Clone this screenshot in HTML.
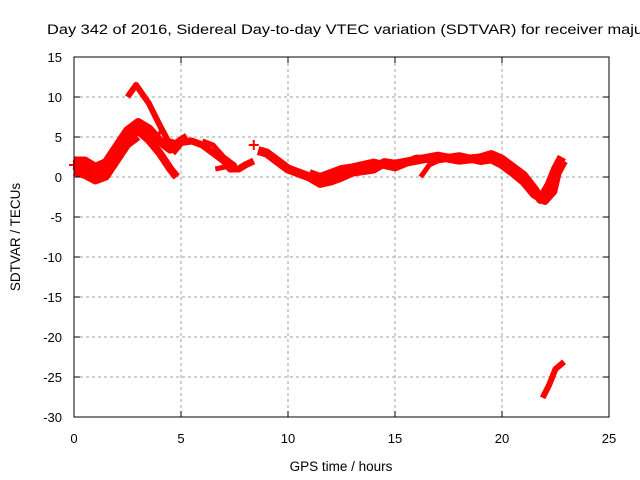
<!DOCTYPE html>
<html><head><meta charset="utf-8"><style>
body{margin:0;background:#fff;}
svg{display:block;font-family:"Liberation Sans",sans-serif;}
</style></head><body>
<svg width="640" height="480" xmlns="http://www.w3.org/2000/svg">
<g id="grid"></g>
<g id="data"></g>
<rect x="74" y="57" width="535" height="360" fill="none" stroke="#000" stroke-width="1"/>
<g id="ticks" font-size="13" fill="#000"></g>
<text x="47" y="34" font-size="13.5" textLength="596" lengthAdjust="spacingAndGlyphs">Day 342 of 2016, Sidereal Day-to-day VTEC variation (SDTVAR) for receiver maju</text>
<text x="341" y="471" font-size="13.5" text-anchor="middle">GPS time / hours</text>
<text transform="translate(20,237) rotate(-90)" font-size="13.5" text-anchor="middle">SDTVAR / TECUs</text>
</svg>
<script>
const xTicks=[0,5,10,15,20,25];
const yTicks=[15,10,5,0,-5,-10,-15,-20,-25,-30];
const trackA1=[[0,1.5],[0.5,1],[1,0],[1.5,0.8],[2,3],[2.5,4.8],[3,5.8],[3.5,4.6],[4,3],[4.5,1],[4.8,0]];
const trackA2=[[0,2],[0.5,2],[1,1.2],[1.5,1.8],[2,3.8],[2.5,5.8],[3,6.8],[3.5,6],[4,4.5],[4.5,3.5],[5,4.5],[5.3,5]];
const trackA3=[[2.5,10],[2.9,11.5],[3.5,9.2],[4,6.5],[4.4,4.5],[4.8,4.2]];
const trackA4=[[0,0.6],[0.5,0.2],[1,-0.5],[1.5,0],[2,2],[2.5,4],[3,5]];
const trackB=[[4.6,3],[5,4.3],[5.5,4.5],[6,4],[6.5,3],[7,2],[7.3,1],[7.7,1],[8,1.5],[8.4,2]];
const trackB2=[[6,4.5],[6.5,4],[7,2.5],[7.5,1.5],[6.6,1]];
const trackC=[[8.6,3.3],[9,3],[9.5,2],[10,1],[10.5,0.5],[11,0],[11.5,-0.8],[12,-0.5],[12.5,0],[13,0.6],[14,1],[14.5,1.8],[15,1.6],[16,2.1],[17,2.6],[18,2.1],[19,2.4],[19.5,2.8],[20,2.2],[20.5,1.2],[21,0.2],[21.5,-1.5],[21.8,-2.8],[22.2,-1],[22.5,1],[22.8,2.5]];
const trackC2=[[11,0.5],[11.5,0],[12,0.5],[12.5,1],[13,1.2],[14,1.8],[15,1.2],[16,2.3],[17,2.2],[18,2.6],[19,2],[19.5,2.2],[20,1.5],[20.5,0.5],[21,-0.6],[21.5,-2.2],[22,-3],[22.4,-1.8],[22.6,0.5],[22.9,2]];
const trackC3=[[16.2,0],[16.6,1.5],[17,2]];
const trackD=[[21.9,-27.6],[22.2,-26],[22.5,-24],[22.9,-23.1]];
const tracks=[trackA1,trackA2,trackA3,trackA4,trackB,trackB2,trackC,trackC2,trackC3,trackD];
const widths=[8,9,6,7,7,5,9,8,5,6];
const crosses=[[8.4,4],[0,1.5],[4,5.5]];
const X=h=>74+h*21.4, Y=v=>177-v*8;
const NS='http://www.w3.org/2000/svg';
const grid=document.getElementById('grid'),ticks=document.getElementById('ticks'),data=document.getElementById('data');
function mk(t,a,p){const e=document.createElementNS(NS,t);for(const k in a)e.setAttribute(k,a[k]);p.appendChild(e);return e;}
xTicks.forEach(t=>{const x=X(t);
 if(t>0&&t<25){const l=mk('line',{x1:x,x2:x,y1:57,y2:417,stroke:'#a0a0a0','stroke-dasharray':'3,3'},grid);}
 mk('line',{x1:x,x2:x,y1:417,y2:411,stroke:'#000'},ticks);mk('line',{x1:x,x2:x,y1:57,y2:63,stroke:'#000'},ticks);
 const tx=mk('text',{x:x,y:443,'text-anchor':'middle'},ticks);tx.textContent=t;
 });
yTicks.forEach(t=>{const y=Y(t);
 if(t<15&&t>-30){const l=mk('line',{x1:74,x2:609,y1:y,y2:y,stroke:'#a0a0a0','stroke-dasharray':'3,3'},grid);}
 mk('line',{x1:74,x2:80,y1:y,y2:y,stroke:'#000'},ticks);mk('line',{x1:603,x2:609,y1:y,y2:y,stroke:'#000'},ticks);
 const tx=mk('text',{x:62,y:y+5,'text-anchor':'end'},ticks);tx.textContent=t;
 });
tracks.forEach((tr,i)=>{const p=mk('polyline',{points:tr.map(d=>X(d[0])+','+Y(d[1])).join(' '),fill:'none',stroke:'#f00','stroke-width':widths[i],'stroke-linejoin':'round'},data);
 });
crosses.forEach(c=>{const g=mk('path',{d:`M${X(c[0])-5},${Y(c[1])}h10M${X(c[0])},${Y(c[1])-5}v10`,stroke:'#f00','stroke-width':2},data);
 });
</script>
</body></html>
